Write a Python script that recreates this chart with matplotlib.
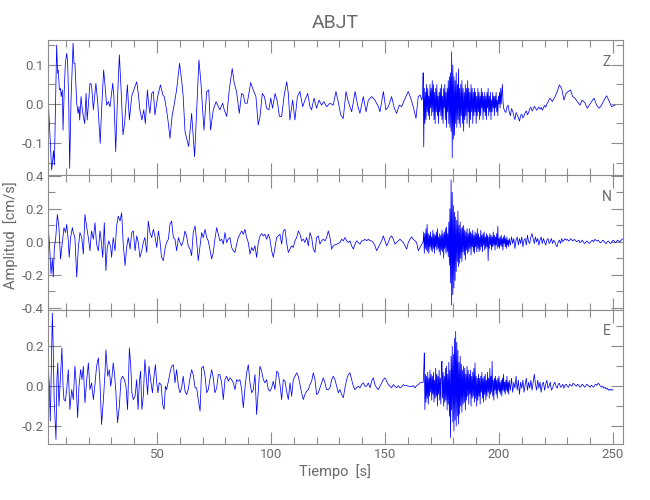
import numpy as np
import matplotlib
matplotlib.use("Agg")
import matplotlib.pyplot as plt
from matplotlib.ticker import MultipleLocator, FormatStrFormatter

plt.rcParams["font.family"] = ["Roboto", "DejaVu Sans"]
plt.rcParams["font.weight"] = "normal"

# ---------------- data (time [s], amplitude [cm/s]) ----------------
station = "ABJT"
components = ["Z", "N", "E"]

# Z component
z_early = [(2.3, 0.010), (3.1, -0.084), (3.8, -0.169), (4.2, -0.148), (4.6, -0.12), (5.0, -0.156),
           (6.0, 0.151), (6.4, 0.079), (6.7, 0.087), (7.2, 0.036), (7.7, 0.040), (8.0, 0.019),
           (8.5, 0.036), (8.8, -0.067), (9.2, 0.015), (9.8, 0.104), (10.4, 0.130), (10.8, 0.109),
           (11.3, 0.002), (11.7, -0.165), (12.3, 0.010), (13.2, 0.156), (13.6, 0.104), (14.0, 0.104),
           (14.8, 0.002), (15.4, -0.024), (15.8, -0.007), (16.1, -0.041), (16.7, 0.019), (17.1, -0.007),
           (17.7, -0.032), (18.3, -0.050), (18.9, 0.027), (19.4, -0.041), (20.6, 0.053), (21.3, 0.049),
           (22.1, -0.015), (23.2, 0.053), (24.0, 0.006), (25.1, -0.101), (25.7, -0.015), (26.6, 0.087),
           (27.2, 0.049), (27.9, -0.003), (28.7, 0.006), (29.4, -0.007), (30.6, 0.053), (31.1, 0.019),
           (31.9, -0.122), (32.6, 0.002), (33.5, 0.126), (34.4, 0.019), (35.1, -0.079), (35.8, -0.050),
           (37.0, 0.049), (37.9, -0.041), (38.9, 0.019), (39.6, 0.032), (41.1, 0.057), (41.8, 0.027),
           (42.5, -0.015), (43.4, -0.041), (44.2, -0.015), (44.9, -0.050), (45.8, 0.036), (46.3, 0.002),
           (46.9, -0.024), (47.7, 0.027), (48.4, 0.032), (49.1, -0.028), (50.3, 0.019), (51.5, 0.049),
           (52.6, 0.023), (53.2, 0.019), (54.2, -0.015), (55.0, -0.050), (55.7, -0.088), (56.6, -0.032),
           (57.5, -0.003), (58.6, 0.036), (59.9, 0.104), (60.8, 0.062), (61.5, 0.019), (62.3, -0.071),
           (63.9, -0.109), (65.2, -0.024), (66.5, -0.135), (67.4, -0.015), (68.4, 0.113), (69.3, 0.053),
           (70.6, -0.067), (71.8, 0.032), (72.7, 0.036), (73.5, -0.067), (74.7, -0.015), (75.9, 0.006),
           (77.6, -0.015)]
z_mid = [(78.8, 0.002), (79.5, -0.015), (80.6, -0.032), (81.7, 0.036), (83.0, 0.091), (83.9, 0.053),
         (84.9, 0.032), (86.1, -0.024), (87.1, 0.027), (87.9, 0.023), (88.6, 0.002), (89.6, 0.002),
         (91.1, 0.055), (92.2, 0.036), (93.4, 0.019), (94.4, -0.054), (95.2, -0.032), (96.2, 0.027),
         (97.1, 0.019), (98.1, -0.011), (99.1, -0.015), (99.9, 0.015), (100.7, -0.011), (101.8, 0.027),
         (102.8, 0.006), (103.7, -0.032), (104.7, -0.032), (105.7, 0.019), (106.9, 0.057), (107.6, 0.027),
         (108.3, -0.041), (109.5, 0.010), (110.5, -0.041), (111.6, 0.019), (112.7, 0.032), (113.9, -0.007),
         (114.9, 0.010), (116.1, 0.027), (117.1, -0.007), (117.8, -0.015), (118.9, 0.015), (120.0, -0.011),
         (121.1, 0.010), (122.2, -0.003), (123.2, 0.006), (124.4, -0.007), (125.9, 0.002), (127.3, -0.003),
         (128.5, 0.032), (129.5, 0.006), (130.6, -0.028), (131.7, -0.037), (132.9, 0.032), (133.9, 0.006),
         (135.4, -0.020), (136.9, 0.032), (138.0, -0.003), (139.0, -0.024), (140.5, 0.019), (141.7, -0.020),
         (142.7, 0.010), (144.2, 0.019), (145.6, 0.010), (147.1, -0.007), (147.8, -0.020), (149.3, 0.032),
         (150.4, -0.015), (151.5, -0.007), (152.9, 0.019), (154.1, -0.011), (155.1, -0.024), (156.3, -0.003),
         (157.3, -0.007), (158.5, 0.010), (160.2, 0.032), (161.3, 0.015), (162.4, -0.007), (163.6, -0.037),
         (164.6, 0.019), (165.4, 0.023), (166.2, 0.010)]
z_burst_start, z_burst_dt = 166.5, 0.25
z_burst = [0.02, 0.08, -0.11, 0.04, -0.05, 0.03, -0.04, 0.05,
           -0.02, 0.04, -0.03, 0.02, -0.04, 0.05, -0.01, 0.04,
           -0.03, 0.06, -0.02, 0.05, -0.04, 0.03, -0.05, 0.04,
           -0.02, 0.05, -0.03, 0.02, -0.05, 0.03, -0.02, 0.04,
           -0.03, 0.05, -0.04, 0.02, -0.05, 0.04, -0.01, 0.05,
           -0.04, 0.03, -0.06, 0.04, -0.02, 0.06, -0.05, 0.07,
           -0.06, 0.08, -0.07, 0.134, -0.138, 0.10, -0.09, 0.07,
           -0.08, 0.06, -0.05, 0.08, -0.06, 0.05, -0.04, 0.09,
           -0.05, 0.04, -0.06, 0.05, -0.03, 0.06, -0.05, 0.04,
           -0.07, 0.03, -0.04, 0.05, -0.03, 0.04, -0.05, 0.06,
           -0.02, 0.04, -0.06, 0.03, -0.04, 0.05, -0.02, 0.04,
           -0.05, 0.03, -0.03, 0.04, -0.02, 0.03, -0.05, 0.02,
           -0.03, 0.04, -0.02, 0.03, -0.04, 0.02, -0.03, 0.04,
           -0.01, 0.03, -0.04, 0.02, -0.02, 0.03, -0.03, 0.02,
           -0.04, 0.03, -0.01, 0.04, -0.03, 0.02, -0.02, 0.03,
           -0.04, 0.01, -0.02, 0.03, -0.01, 0.02, -0.03, 0.02,
           -0.01, 0.03, -0.02, 0.01, -0.03, 0.02, 0.00, 0.03,
           -0.01, 0.04, 0.00, 0.03, 0.05, 0.01, -0.01]
z_coda_start, z_coda_dt = 202.5, 0.5
z_coda = [-0.018, -0.022, -0.008, -0.003, -0.020, -0.030, -0.012, -0.018, -0.030,
          -0.040, -0.022, -0.028, -0.035, -0.044, -0.030, -0.026, -0.036, -0.030, -0.022,
          -0.018, -0.028, -0.022, -0.012, -0.008, -0.018, -0.014, -0.006, -0.010, -0.016,
          -0.012, -0.008, -0.013, -0.009, -0.016, -0.010, -0.004, -0.008, 0.000, 0.005, 0.012]
z_tail = [(222.4, 0.015), (223.4, 0.006), (224.6, 0.019), (225.6, 0.032), (226.5, 0.049), (227.5, 0.040),
          (228.5, 0.010), (229.4, 0.027), (230.4, 0.032), (231.4, 0.036), (232.3, 0.019), (233.3, 0.015),
          (234.4, 0.006), (235.5, -0.003), (236.5, 0.010), (237.7, 0.003), (238.7, -0.011), (239.6, -0.003),
          (240.6, 0.006), (241.7, 0.015), (242.8, -0.003), (244.0, -0.011), (245.0, -0.003), (246.1, 0.010),
          (247.2, 0.021), (248.2, 0.009), (249.4, -0.007), (250.9, -0.003)]

# N component
n_early = [(2.3, 0.096), (3.1, -0.074), (3.5, -0.194), (4.1, -0.104), (4.5, -0.214), (5.0, -0.034),
           (5.6, 0.026), (6.3, 0.166), (7.0, 0.086), (7.7, -0.104), (8.5, -0.004), (9.2, 0.086),
           (9.9, 0.056), (10.4, 0.106), (11.1, 0.006), (11.5, -0.094), (12.1, 0.026), (12.9, 0.086),
           (13.3, 0.056), (14.0, 0.026), (14.8, -0.214), (15.5, -0.034), (16.2, 0.056), (17.0, 0.026),
           (17.7, -0.074), (18.4, 0.166), (19.2, 0.086), (19.9, 0.026), (20.6, -0.054), (21.3, 0.066),
           (22.1, 0.016), (22.8, 0.116), (23.5, -0.014), (24.3, -0.054), (25.0, 0.066), (25.4, 0.026),
           (26.2, -0.094), (26.9, 0.116), (27.6, -0.174), (28.2, -0.034), (28.9, 0.006), (29.7, -0.034),
           (30.1, -0.094), (30.8, 0.026), (31.6, -0.054), (32.3, 0.096), (33.0, 0.156), (33.8, 0.126),
           (34.5, 0.176), (35.2, -0.014), (36.0, -0.144), (36.7, -0.034), (37.4, 0.026), (38.2, -0.044),
           (38.9, 0.056), (39.6, 0.066), (40.4, -0.054), (41.1, 0.036), (41.8, -0.004), (42.5, -0.094),
           (43.3, -0.054), (44.0, -0.004), (44.7, 0.026), (45.5, -0.064), (46.2, 0.126), (46.9, 0.056),
           (47.7, 0.026), (48.4, 0.076), (49.1, 0.036), (49.9, -0.034), (50.6, 0.066), (51.3, 0.006),
           (52.0, -0.094), (52.8, -0.114), (53.5, -0.044), (54.2, -0.004), (55.0, 0.016), (55.7, 0.106),
           (56.4, 0.126), (57.2, 0.026), (57.9, 0.016), (58.6, -0.054), (59.4, 0.026), (60.1, -0.004),
           (60.8, -0.024), (61.5, 0.006), (62.3, 0.066), (63.0, 0.036), (63.7, -0.024), (64.5, -0.044),
           (65.2, -0.084), (65.9, 0.056), (66.7, 0.096), (67.4, 0.006), (68.1, -0.114), (68.9, -0.024),
           (69.6, 0.056), (70.3, 0.026), (71.1, 0.076), (71.8, 0.026), (72.5, 0.006), (73.2, -0.044),
           (74.0, -0.104), (74.7, -0.064), (75.4, 0.016), (76.2, 0.086), (76.9, 0.046)]
n_mid_start, n_mid_dt = 77.63, 0.731
n_mid = [0.006, 0.016, -0.014, 0.056, -0.004, 0.016, 0.026, -0.034, -0.054, -0.064,
         -0.014, 0.026, 0.046, 0.066, 0.046, 0.076, 0.026, -0.004, -0.074, -0.034,
         -0.054, -0.024, -0.094, -0.004, 0.036, 0.050, 0.036, 0.046, 0.016, 0.046,
         0.016, -0.054, -0.094, -0.034, 0.026, 0.036, 0.046, -0.014, 0.066, 0.076,
         -0.004, -0.064, -0.044, -0.024, -0.034, 0.006, 0.026, 0.066, 0.046, 0.006,
         0.016, -0.004, 0.026, -0.024, 0.056, 0.026, -0.044, -0.064, 0.026, 0.036,
         -0.014, 0.006, 0.016, 0.006, 0.026, 0.066, 0.026, -0.044, -0.024, -0.018,
         -0.014, -0.010, -0.004, 0.016, 0.006, 0.026, 0.006, -0.004, 0.006, -0.024,
         -0.044, -0.014, 0.006, -0.004, -0.014, 0.006, 0.006, 0.016, 0.006, 0.016,
         0.006, 0.006, -0.004, -0.024, -0.054, -0.034, -0.014, 0.006, 0.036, 0.006,
         -0.024, -0.004, 0.026, 0.036, 0.016, -0.014, -0.004, 0.006, 0.016, 0.006,
         -0.004, -0.024, -0.044, -0.004, 0.016, 0.030, 0.016, 0.006, -0.004, -0.054, -0.034]
n_burst_start, n_burst_dt = 166.75, 0.25
n_burst = [0.00, 0.06, -0.07, 0.05, -0.04, 0.08, -0.05, 0.106,
           -0.06, 0.05, -0.07, 0.04, -0.03, 0.06, -0.05, 0.03,
           -0.06, 0.07, -0.04, 0.05, -0.07, 0.04, -0.03, 0.06,
           -0.05, 0.08, -0.04, 0.03, -0.06, 0.05, -0.08, 0.04,
           -0.05, 0.07, -0.06, 0.05, -0.10, 0.06, -0.04, 0.08,
           -0.07, 0.09, -0.06, 0.05, -0.09, 0.12, -0.14, 0.20,
           -0.25, 0.376, -0.384, 0.30, -0.32, 0.22, -0.28, 0.18,
           -0.234, 0.15, -0.18, 0.13, -0.12, 0.186, -0.15, 0.10,
           -0.13, 0.12, -0.10, 0.08, -0.12, 0.09, -0.06, 0.10,
           -0.08, 0.07, -0.11, 0.06, -0.05, 0.08, -0.07, 0.05,
           -0.06, 0.08, -0.04, 0.06, -0.08, 0.05, -0.03, 0.07,
           -0.06, 0.04, -0.07, 0.06, -0.03, 0.05, -0.06, 0.08,
           -0.04, 0.05, -0.06, 0.03, -0.05, 0.07, -0.03, 0.04,
           -0.06, 0.05, -0.02, 0.06, -0.05, 0.03, -0.04, 0.05,
           -0.03, 0.04, -0.114, 0.03, -0.04, 0.05, -0.02, 0.04,
           -0.05, 0.03, -0.03, 0.06, -0.02, 0.04, -0.05, 0.03,
           -0.02, 0.05, -0.04, 0.095, -0.03, 0.02, -0.04, 0.03,
           -0.02, 0.04, -0.03, 0.02, -0.05, 0.03, -0.01, 0.04,
           -0.03, 0.02, -0.04, 0.03, -0.02, 0.01, -0.03, 0.02]
n_coda_start, n_coda_dt = 205.0, 0.5
n_coda = [-0.02, 0.03, -0.01, 0.02, -0.04, 0.01, 0.03, -0.02, 0.02, -0.01,
          0.03, -0.03, 0.01, 0.02, -0.02, 0.04, 0.00, -0.01, 0.03, 0.05,
          0.02, -0.01, 0.03, 0.00, 0.02, -0.02, 0.01, 0.03, -0.01, 0.02,
          0.00, -0.02, 0.01, 0.02, -0.01, 0.00, 0.02, -0.01, 0.01, 0.00,
          -0.02, -0.03, 0.00, 0.01, -0.01, 0.02, 0.00, 0.01, 0.02, 0.01,
          0.015, 0.005, 0.01, 0.02, 0.01, 0.005, 0.015, 0.01, 0.00, 0.005,
          0.01, -0.005, 0.00, 0.01, 0.00, -0.01, -0.005, 0.005, 0.00, -0.01,
          -0.005, 0.005, 0.01, 0.00, 0.015, 0.01, 0.005, 0.01, 0.00, -0.005,
          0.00, 0.01, 0.005, -0.005, -0.01, 0.00, 0.005, -0.005, -0.01, 0.00,
          0.01, 0.005, -0.005, 0.00, 0.01, 0.005, 0.00, 0.01, 0.015, 0.02]

# E component
e_early = [(2.3, 0.100), (2.8, 0.000), (3.2, -0.175), (3.6, 0.050), (4.1, 0.367), (4.5, 0.183),
           (4.9, -0.067), (5.4, -0.200), (5.7, -0.267), (6.1, 0.033), (6.5, 0.117), (7.0, -0.100),
           (7.5, 0.017), (7.9, 0.100), (8.3, 0.192), (8.8, 0.000), (9.2, -0.067), (9.8, -0.075),
           (10.4, -0.017), (11.1, 0.083), (11.8, -0.117), (12.6, -0.017), (13.3, -0.067), (14.0, 0.100),
           (14.5, 0.025), (15.2, -0.158), (15.8, 0.000), (16.5, 0.083), (17.1, 0.033), (17.7, 0.100),
           (18.4, -0.083), (19.2, 0.033), (19.9, 0.117), (20.6, -0.017), (21.3, 0.017), (22.1, -0.067),
           (22.8, 0.008), (23.5, 0.100), (24.3, 0.142), (25.0, 0.017), (25.7, -0.192), (26.5, -0.067),
           (27.2, 0.067), (27.6, 0.183), (28.4, 0.050), (29.1, 0.083), (29.7, 0.000), (30.3, 0.050),
           (30.8, 0.117), (31.4, 0.058), (32.0, -0.033), (32.7, -0.183), (33.5, -0.100), (34.2, 0.033),
           (34.9, 0.050), (35.7, 0.033), (36.4, 0.000), (37.1, -0.117), (37.9, 0.192), (38.5, 0.100),
           (39.0, -0.033), (39.6, -0.067), (40.4, -0.050), (41.1, 0.033), (41.7, -0.117), (42.3, 0.025),
           (42.8, 0.075), (43.4, -0.117), (44.0, -0.050), (44.7, 0.133), (45.5, 0.017), (45.9, -0.042),
           (46.5, 0.100), (47.2, 0.033), (48.0, -0.033), (48.7, 0.050), (49.3, 0.108), (49.9, 0.017),
           (50.4, -0.033), (51.0, 0.017), (51.8, 0.008), (52.5, -0.092), (53.1, -0.117), (53.7, 0.000),
           (54.2, -0.017), (55.0, 0.025), (55.7, 0.067), (56.4, 0.100), (57.2, 0.108), (57.9, 0.017),
           (58.6, 0.083), (59.4, 0.000), (60.1, -0.033), (60.8, -0.008), (61.5, 0.050), (62.3, -0.025),
           (63.0, -0.042), (63.7, -0.017), (64.5, 0.042), (65.2, 0.083), (65.9, 0.058), (66.7, -0.008),
           (67.4, -0.008), (68.1, -0.067), (68.9, -0.125), (69.6, 0.092), (70.3, 0.100), (71.1, 0.050),
           (71.8, -0.033), (72.5, -0.017), (73.2, 0.033), (74.0, 0.083), (74.7, 0.042), (75.4, -0.033),
           (76.2, -0.008), (76.9, 0.058), (77.6, 0.058)]
e_mid_start, e_mid_dt = 78.36, 0.731
e_mid = [0.017, -0.067, 0.033, 0.050, 0.025, 0.042, 0.033, 0.017, -0.017, 0.033,
         0.025, 0.033, -0.017, -0.108, -0.008, 0.067, 0.108, 0.017, -0.033, -0.017,
         0.058, -0.142, -0.017, 0.100, 0.075, 0.033, 0.017, 0.033, -0.017, -0.025,
         -0.008, 0.025, -0.017, 0.075, 0.067, 0.008, -0.067, 0.033, 0.025, -0.025,
         -0.067, 0.017, -0.050, 0.033, 0.050, 0.067, 0.050, 0.008, -0.033, -0.067,
         -0.042, -0.025, -0.017, 0.008, 0.025, 0.067, 0.033, -0.042, -0.033, -0.008,
         0.017, 0.042, 0.017, -0.017, -0.017, -0.008, 0.033, 0.050, 0.033, 0.000,
         -0.033, -0.017, -0.042, -0.058, -0.008, 0.033, 0.058, 0.067, 0.033, 0.000,
         -0.017, -0.008, 0.000, -0.008, 0.008, 0.017, 0.000, 0.000, 0.017, -0.008,
         0.025, 0.042, 0.008, -0.008, -0.017, 0.000, 0.017, 0.033, 0.042, 0.025,
         0.008, 0.000, -0.008, 0.008, 0.000, -0.008, 0.003, -0.008, -0.003, 0.008,
         0.003, 0.003, 0.000, 0.000, -0.003, 0.003, -0.008, 0.003, 0.008, 0.017]
e_burst_start, e_burst_dt = 166.75, 0.25
e_burst = [0.02, 0.08, 0.167, -0.117, 0.06, -0.08, 0.05, -0.06,
           0.07, -0.09, 0.04, -0.05, 0.08, -0.03, 0.06, -0.07,
           0.05, -0.04, 0.07, -0.08, 0.03, -0.06, 0.09, -0.05,
           0.06, -0.10, 0.05, -0.04, 0.08, -0.07, 0.04, -0.09,
           0.10, 0.125, -0.06, 0.07, -0.10, 0.05, -0.08, 0.09,
           -0.07, 0.10, -0.12, 0.06, -0.09, 0.12, -0.15, 0.08,
           -0.258, 0.15, -0.12, 0.20, -0.18, 0.16, -0.225, 0.24,
           -0.17, 0.275, -0.20, 0.22, -0.15, 0.18, -0.19, 0.12,
           -0.14, 0.15, -0.10, 0.11, -0.13, 0.08, -0.09, 0.10,
           -0.08, 0.09, -0.12, 0.06, -0.07, 0.10, -0.05, 0.08,
           -0.09, 0.06, -0.04, 0.08, -0.10, 0.05, -0.06, 0.07,
           -0.05, 0.09, -0.08, 0.117, -0.06, 0.05, -0.10, 0.04,
           -0.07, 0.06, -0.05, 0.04, -0.09, 0.05, -0.03, 0.07,
           -0.06, 0.04, -0.08, 0.05, -0.04, 0.06, -0.07, 0.03,
           -0.05, 0.07, -0.03, 0.04, -0.06, 0.09, -0.04, 0.05,
           -0.03, 0.125, -0.05, 0.03, -0.07, 0.04, -0.02, 0.05,
           -0.04, 0.03, -0.06, 0.04, -0.02, 0.05, -0.03, 0.02,
           -0.04, 0.03, -0.05, 0.04, -0.02, 0.06, -0.03, 0.02,
           -0.04, 0.03, -0.02, 0.05, -0.03, 0.02, -0.04, 0.03]
e_coda_start, e_coda_dt = 205.0, 0.5
e_coda = [-0.02, 0.04, -0.03, 0.02, -0.01, 0.05, -0.02, 0.03, -0.04, 0.02,
          -0.01, 0.03, -0.03, 0.01, 0.04, -0.02, 0.02, -0.01, 0.03, -0.02,
          0.02, 0.06, 0.01, -0.02, 0.03, -0.01, 0.02, -0.03, 0.01, 0.02,
          -0.02, 0.01, 0.03, -0.01, 0.00, 0.02, -0.02, -0.01, 0.01, 0.02,
          0.00, -0.01, 0.01, 0.015, -0.005, 0.00, 0.01, -0.01, 0.005, 0.01,
          0.00, -0.005, 0.01, 0.005, 0.00, 0.015, 0.01, 0.005, 0.00, 0.01,
          0.005, -0.005, 0.00, 0.01, 0.005, -0.005, 0.00, 0.01, 0.005, 0.00,
          -0.005, 0.005, 0.00, -0.005, 0.005, 0.01, 0.005, 0.015, 0.01, 0.00,
          -0.005, 0.00, -0.01, -0.005, -0.015, -0.01, -0.02, -0.015, -0.02, -0.015,
          -0.02]

x_ticks_major = 50
x_ticks_minor = 10
x_limits = (2.2, 254.4)
y_limits = {"Z": (-0.182, 0.164), "N": (-0.41, 0.405), "E": (-0.29, 0.385)}
y_major = {"Z": 0.1, "N": 0.2, "E": 0.2}
y_minor = {"Z": 0.05, "N": 0.1, "E": 0.1}


def build(parts):
    ts, vs = [], []
    for kind, item in parts:
        if kind == "pairs":
            t, v = zip(*item)
            ts.append(np.array(t)); vs.append(np.array(v))
        else:
            t0, dt, vals = item
            ts.append(t0 + dt * np.arange(len(vals))); vs.append(np.array(vals))
    return np.concatenate(ts), np.concatenate(vs)


traces = {
    "Z": build([("pairs", z_early), ("pairs", z_mid), ("grid", (z_burst_start, z_burst_dt, z_burst)),
                ("grid", (z_coda_start, z_coda_dt, z_coda)), ("pairs", z_tail)]),
    "N": build([("pairs", n_early), ("grid", (n_mid_start, n_mid_dt, n_mid)),
                ("grid", (n_burst_start, n_burst_dt, n_burst)),
                ("grid", (n_coda_start, n_coda_dt, n_coda))]),
    "E": build([("pairs", e_early), ("grid", (e_mid_start, e_mid_dt, e_mid)),
                ("grid", (e_burst_start, e_burst_dt, e_burst)),
                ("grid", (e_coda_start, e_coda_dt, e_coda))]),
}

# ---------------- figure ----------------
grey_axis = "#8c8c8c"
grey_text = "#6a6a6a"
fig = plt.figure(figsize=(6.5, 5.0), dpi=100)
left, width = 48 / 650, 575 / 650
bounds = [(40, 175), (175, 309.5), (309.5, 444)]

axes = []
for comp, (top, bot) in zip(components, bounds):
    ax = fig.add_axes([left, 1 - bot / 500, width, (bot - top) / 500])
    t, v = traces[comp]
    ax.plot(t, v, color="#0000ff", lw=0.55)
    ax.set_xlim(*x_limits)
    ax.set_ylim(*y_limits[comp])
    ax.xaxis.set_major_locator(MultipleLocator(x_ticks_major))
    ax.xaxis.set_minor_locator(MultipleLocator(x_ticks_minor))
    ax.yaxis.set_major_locator(MultipleLocator(y_major[comp]))
    ax.yaxis.set_minor_locator(MultipleLocator(y_minor[comp]))
    ax.yaxis.set_major_formatter(FormatStrFormatter("%.1f"))
    ax.tick_params(which="both", direction="in", top=True, right=True,
                   color=grey_axis, labelcolor=grey_text, labelsize=9.5, width=0.8)
    ax.tick_params(which="major", length=9, pad=3)
    ax.tick_params(which="minor", length=5)
    for s in ax.spines.values():
        s.set_color(grey_axis)
        s.set_linewidth(0.8)
    ax.text(0.971, 0.84, comp, transform=ax.transAxes, ha="center", va="center",
            color=grey_text, fontsize=10)
    if comp != "E":
        ax.tick_params(labelbottom=False)
    axes.append(ax)

fig.text(335 / 650, 1 - 472 / 500, "Tiempo  [s]", ha="center", va="center",
         color=grey_text, fontsize=10.5)
fig.text(335.5 / 650, 1 - 22.5 / 500, station, ha="center", va="center",
         color=grey_text, fontsize=14)
fig.text(11 / 650, 1 - 235 / 500, "Amplitud  [cm/s]", rotation=90, ha="center",
         va="center", color=grey_text, fontsize=10.5)

fig.savefig("out.png", dpi=100)
